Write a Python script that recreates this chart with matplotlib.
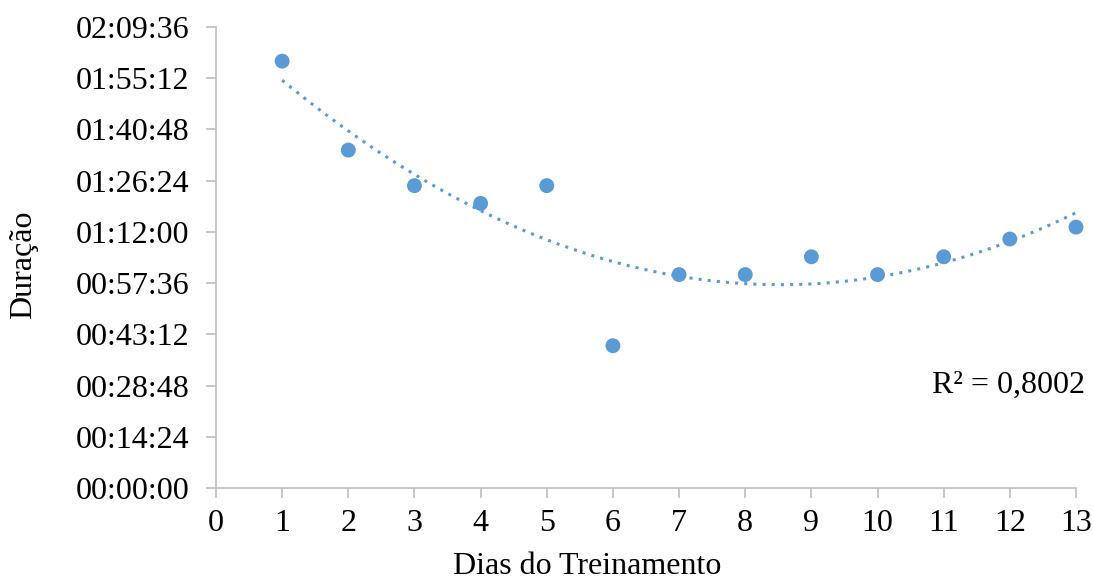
import numpy as np
import matplotlib
matplotlib.use("Agg")
import matplotlib.pyplot as plt
from matplotlib.ticker import FuncFormatter, MultipleLocator

plt.rcParams['font.family'] = ['Liberation Serif', 'DejaVu Serif']

days = [1, 2, 3, 4, 5, 6, 7, 8, 9, 10, 11, 12, 13]
# durations in seconds
durations = [7200, 5700, 5100, 4800, 5100, 2400, 3600, 3600, 3900, 3600, 3900, 4200, 4400]
r2_label = "R² = 0,8002"
x_label = "Dias do Treinamento"
y_label = "Duração"

color = '#5B9BD5'
grey = '#BFBFBF'

fig = plt.figure(figsize=(10.93, 5.8), dpi=100)
ax = fig.add_axes([216/1093, 1-488/580, (1076-216)/1093, (488-27)/580])

x = np.array(days, dtype=float)
y = np.array(durations, dtype=float)
coef = np.polyfit(x, y, 2)
xs = np.linspace(x.min(), x.max(), 200)
ax.plot(xs, np.polyval(coef, xs), linestyle=(0, (1, 2)), color=color, lw=2.2, zorder=2)
ax.scatter(x, y, s=115, color=color, zorder=3, clip_on=False, edgecolors='none')

ax.set_xlim(0, 13)
ax.set_ylim(0, 7776)
ax.xaxis.set_major_locator(MultipleLocator(1))
ax.yaxis.set_major_locator(MultipleLocator(864))

def fmt(v, pos):
    v = int(round(v))
    return f"{v // 3600:02d}:{(v % 3600) // 60:02d}:{v % 60:02d}"
ax.yaxis.set_major_formatter(FuncFormatter(fmt))

for s in ['top', 'right']:
    ax.spines[s].set_visible(False)
for s in ['left', 'bottom']:
    ax.spines[s].set_color(grey)
    ax.spines[s].set_linewidth(1.2)
ax.tick_params(axis='both', colors=grey, length=7, width=1.2, labelsize=23, labelcolor='black')
ax.tick_params(axis='y', pad=12)
ax.tick_params(axis='x', pad=8)

fig.text(587/1093, 1-567/580, x_label, ha='center', va='center', fontsize=23)
fig.text(24/1093, 1-265/580, y_label, ha='center', va='center', rotation=90, fontsize=23)
fig.text(1085/1093, 1-385/580, r2_label, ha='right', va='center', fontsize=23)

fig.savefig("out.png", dpi=100)
